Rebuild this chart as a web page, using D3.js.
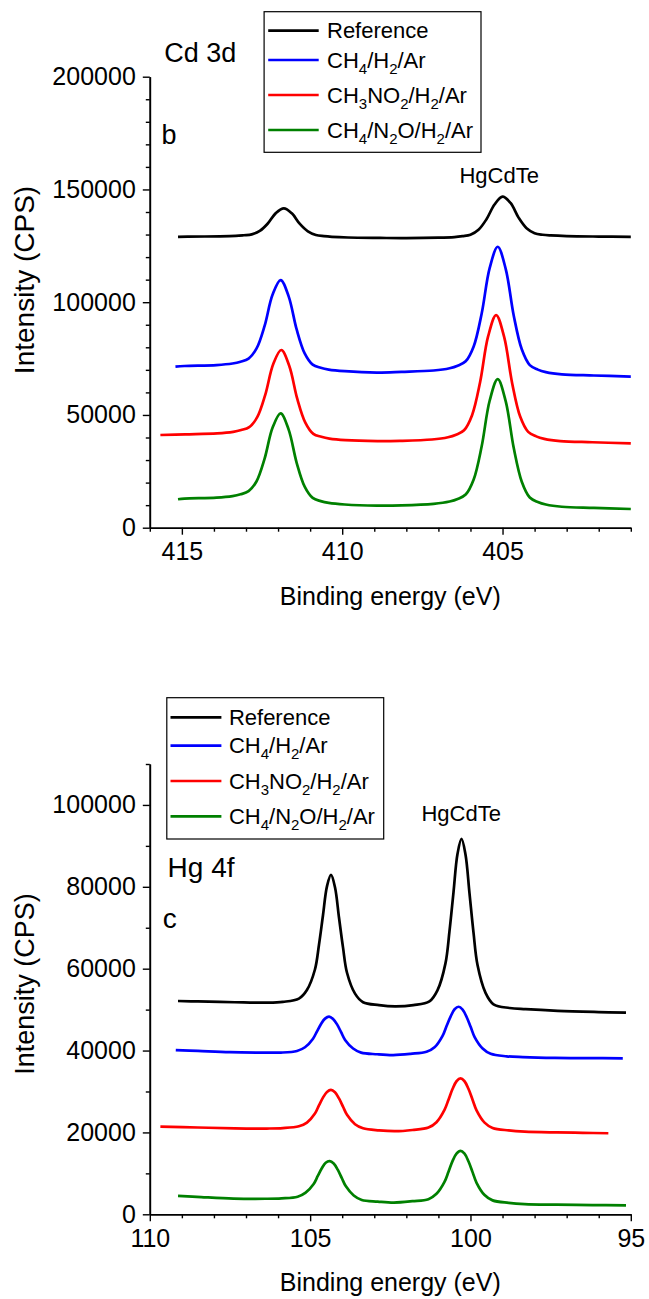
<!DOCTYPE html>
<html>
<head>
<meta charset="utf-8">
<script src="https://cdn.jsdelivr.net/npm/d3@7"></script>
<style>
  html, body { margin: 0; padding: 0; background: #fff; }
  svg { display: block; }
  text { font-family: "Liberation Sans", Arial, sans-serif; fill: #000; }
</style>
</head>
<body>
<svg id="chart" width="649" height="1299"></svg>
<script>
// ---------------- DATA ----------------
const seriesNames = ["Reference", "CH4/H2/Ar", "CH3NO2/H2/Ar", "CH4/N2O/H2/Ar"];
const seriesColors = ["#000000", "#0000ff", "#ff0000", "#008000"];

// Panel b: Cd 3d  [binding energy eV, intensity CPS]
const cdReference = [[415.12,129000],[414.82,129100],[413.82,129200],[413.32,129400],[413.07,129700],[412.82,130100],[412.57,131600],[412.32,134900],[412.07,139500],[411.82,141600],[411.57,139400],[411.32,134700],[411.07,131400],[410.82,129800],[410.57,129300],[410.32,129000],[409.82,128700],[408.82,128500],[408.0,128400],[407.0,128600],[406.5,128900],[406.25,129300],[406.0,129900],[405.75,132100],[405.5,136800],[405.25,143300],[405.0,146800],[404.75,144000],[404.5,137500],[404.25,132800],[404.0,130600],[403.75,129900],[403.5,129600],[403.0,129300],[402.0,129100],[401.0,129000]];
const cdCH4 = [[415.2,71400],[414.92,71700],[413.92,72100],[413.42,72800],[413.17,73600],[412.92,75000],[412.67,79500],[412.42,89500],[412.17,103400],[411.92,109800],[411.67,102600],[411.42,87900],[411.17,77300],[410.92,72300],[410.67,70900],[410.42,70100],[409.92,69400],[408.92,68800],[408.15,69100],[407.15,69700],[406.65,70700],[406.4,71800],[406.15,73800],[405.9,80400],[405.65,95000],[405.4,115200],[405.15,124600],[404.9,114700],[404.65,94000],[404.4,79100],[404.15,72100],[403.9,70100],[403.65,69000],[403.15,68000],[402.15,67500],[401.0,67000]];
const cdCH3NO2 = [[415.67,41100],[414.9,41400],[413.9,41800],[413.4,42500],[413.15,43300],[412.9,44600],[412.65,49000],[412.4,58900],[412.15,72600],[411.9,78800],[411.65,71700],[411.4,57100],[411.15,46600],[410.9,41600],[410.65,40300],[410.4,39500],[409.9,38800],[408.9,38400],[408.2,38500],[407.2,39100],[406.7,40100],[406.45,41200],[406.2,43200],[405.95,49900],[405.7,64500],[405.45,84800],[405.2,94300],[404.95,84600],[404.7,64100],[404.45,49300],[404.2,42500],[403.95,40500],[403.7,39400],[403.2,38400],[402.2,37900],[401.0,37400]];
const cdN2O = [[415.12,12600],[414.92,12900],[413.92,13300],[413.42,14000],[413.17,14800],[412.92,16200],[412.67,20600],[412.42,30600],[412.17,44400],[411.92,50700],[411.67,43500],[411.42,28800],[411.17,18200],[410.92,13200],[410.67,11800],[410.42,11000],[409.92,10300],[408.92,9800],[408.15,9900],[407.15,10600],[406.65,11600],[406.4,12700],[406.15,14700],[405.9,21400],[405.65,36100],[405.4,56400],[405.15,65900],[404.9,56000],[404.65,35300],[404.4,20400],[404.15,13400],[403.9,11400],[403.65,10300],[403.15,9300],[402.15,8800],[401.0,8300]];

// Panel c: Hg 4f
const hgReference = [[109.12,52100],[108.5,52000],[107.35,51800],[106.35,51700],[105.85,51900],[105.35,52700],[105.1,54800],[104.85,59800],[104.725,65800],[104.6,73000],[104.475,80100],[104.35,82900],[104.225,79900],[104.1,72500],[103.975,65200],[103.85,59000],[103.6,53900],[103.35,51800],[102.85,51100],[102.35,50800],[101.78,51100],[101.28,52000],[101.03,54700],[100.78,61300],[100.655,69100],[100.53,78600],[100.405,88000],[100.28,91700],[100.155,87900],[100.03,78400],[99.905,68800],[99.78,60900],[99.53,54100],[99.28,51300],[98.78,50400],[98.28,50100],[97.28,49700],[96.0,49400],[95.15,49250]];
const hgCH4 = [[109.19,40100],[108.5,39900],[107.5,39600],[106.41,39500],[105.91,39500],[105.41,39900],[105.16,40800],[104.91,42900],[104.785,44700],[104.66,46500],[104.535,47800],[104.41,48300],[104.285,47700],[104.16,46400],[104.035,44500],[103.91,42600],[103.66,40500],[103.41,39500],[102.91,39100],[102.41,38900],[101.87,39200],[101.37,39700],[101.12,40800],[100.87,43600],[100.745,46000],[100.62,48300],[100.495,50100],[100.37,50700],[100.245,50000],[100.12,48200],[99.995,45800],[99.87,43300],[99.62,40500],[99.37,39200],[98.87,38600],[98.37,38400],[97.37,38200],[96.3,38150],[95.25,38100]];
const hgCH3NO2 = [[109.67,21400],[108.5,21200],[107.35,21000],[106.35,20950],[105.85,21050],[105.35,21500],[105.1,22400],[104.85,24600],[104.725,26600],[104.6,28500],[104.475,29900],[104.35,30400],[104.225,29800],[104.1,28300],[103.975,26300],[103.85,24300],[103.6,22000],[103.35,21000],[102.85,20500],[102.35,20300],[101.81,20600],[101.31,21200],[101.06,22500],[100.81,25500],[100.685,28000],[100.56,30600],[100.435,32500],[100.31,33200],[100.185,32500],[100.06,30600],[99.935,28000],[99.81,25400],[99.56,22400],[99.31,21100],[98.81,20500],[98.31,20200],[97.31,20000],[96.5,19900],[95.7,19800]];
const hgN2O = [[109.12,4500],[108.4,4200],[107.39,3850],[106.39,3800],[105.89,3900],[105.39,4300],[105.14,5300],[104.89,7400],[104.765,9300],[104.64,11200],[104.515,12600],[104.39,13000],[104.265,12400],[104.14,10900],[104.015,8900],[103.89,6900],[103.64,4600],[103.39,3500],[102.89,3100],[102.39,2850],[101.81,3200],[101.31,3700],[101.06,5000],[100.81,7900],[100.685,10400],[100.56,13000],[100.435,14800],[100.31,15500],[100.185,14800],[100.06,12900],[99.935,10300],[99.81,7700],[99.56,4700],[99.31,3400],[98.81,2800],[98.31,2500],[97.31,2350],[96.2,2250],[95.15,2200]];

// Tick values
const cdXMajor = [415, 410, 405];
const cdXMinor = [416,414,413,412,411,409,408,407,406,404,403,402,401];
const cdYMajor = [0, 50000, 100000, 150000, 200000];
const cdYMinor = [10000,20000,30000,40000,60000,70000,80000,90000,110000,120000,130000,140000,160000,170000,180000,190000];
const hgXMajor = [110, 105, 100, 95];
const hgXMinor = [109,108,107,106,104,103,102,101,99,98,97,96];
const hgYMajor = [0, 20000, 40000, 60000, 80000, 100000];
const hgYMinor = [10000,30000,50000,70000,90000,110000];

// ---------------- DRAW ----------------
const svg = d3.select("#chart");
svg.append("rect").attr("width", 649).attr("height", 1299).attr("fill", "#fff");

function formula(textSel, str, subSize, subShift) {
  const parts = str.match(/\d+|[^\d]+/g);
  let prevSub = false;
  parts.forEach(p => {
    const isSub = /^\d+$/.test(p);
    const ts = textSel.append("tspan").text(p);
    if (isSub) { ts.attr("font-size", subSize).attr("dy", subShift); }
    else if (prevSub) { ts.attr("dy", -subShift); }
    prevSub = isSub;
  });
}

function panel(cfg) {
  const g = svg.append("g");
  const x = d3.scaleLinear().domain(cfg.xDomain).range([149.8, 630.8]);
  const y = d3.scaleLinear().domain(cfg.yDomain).range(cfg.yRange);

  // series
  const line = d3.line().x(d => x(d[0])).y(d => y(d[1])).curve(d3.curveCatmullRom.alpha(0.5));
  cfg.series.forEach((s, i) => {
    g.append("path").datum(s).attr("d", line)
      .attr("fill", "none").attr("stroke", seriesColors[i])
      .attr("stroke-width", 2.7).attr("stroke-linejoin", "round");
  });

  // axes
  const xAxisY = cfg.yRange[0];
  g.append("g").attr("transform", `translate(0,${xAxisY})`)
    .call(d3.axisBottom(x).tickValues(cfg.xMajor).tickSize(7).tickSizeOuter(0).tickPadding(8).tickFormat(d3.format("d")));
  g.append("g").attr("transform", `translate(0,${xAxisY})`)
    .call(d3.axisBottom(x).tickValues(cfg.xMinor).tickSize(4).tickSizeOuter(0).tickFormat(""));
  g.append("g").attr("transform", "translate(149.8,0)")
    .call(d3.axisLeft(y).tickValues(cfg.yMajor).tickSize(7).tickSizeOuter(0).tickPadding(7).tickFormat(d3.format("d")));
  g.append("g").attr("transform", "translate(149.8,0)")
    .call(d3.axisLeft(y).tickValues(cfg.yMinor).tickSize(4).tickSizeOuter(0).tickFormat(""));
  g.selectAll(".domain").attr("stroke", "#000").attr("stroke-width", 1.6);
  g.selectAll(".tick line").attr("stroke", "#000").attr("stroke-width", 1.4);
  g.selectAll(".tick text").attr("font-size", 25).attr("font-family", '"Liberation Sans", Arial, sans-serif').attr("fill", "#000");

  // axis titles
  g.append("text").attr("x", 390.3).attr("y", cfg.xTitleY).attr("text-anchor", "middle")
    .attr("font-size", 25).text("Binding energy (eV)");
  g.append("text").attr("transform", `translate(34,${cfg.yTitleY}) rotate(-90)`)
    .attr("text-anchor", "middle").attr("font-size", cfg.yTitleSize).text("Intensity (CPS)");

  // labels
  cfg.labels.forEach(l => {
    g.append("text").attr("x", l.x).attr("y", l.y).attr("font-size", l.size).text(l.text);
  });

  // legend
  const lg = cfg.legend;
  g.append("rect").attr("x", lg.x0).attr("y", lg.y0).attr("width", lg.x1 - lg.x0).attr("height", lg.y1 - lg.y0)
    .attr("fill", "#fff").attr("stroke", "#000").attr("stroke-width", 1.2);
  seriesNames.forEach((name, i) => {
    const ly = lg.rows[i];
    g.append("line").attr("x1", lg.lx0).attr("x2", lg.lx1).attr("y1", ly).attr("y2", ly)
      .attr("stroke", seriesColors[i]).attr("stroke-width", 2.7);
    const t = g.append("text").attr("x", lg.tx).attr("y", ly + 7.5).attr("font-size", 22);
    formula(t, name, 15, 6);
  });
}

panel({
  xDomain: [416, 401], yDomain: [0, 200000], yRange: [527.7, 76.7],
  series: [cdReference, cdCH4, cdCH3NO2, cdN2O],
  xMajor: cdXMajor, xMinor: cdXMinor, yMajor: cdYMajor, yMinor: cdYMinor,
  xTitleY: 605, yTitleY: 280, yTitleSize: 28,
  labels: [
    {text: "Cd 3d", x: 164.3, y: 62.3, size: 27},
    {text: "b", x: 161.5, y: 143.5, size: 27},
    {text: "HgCdTe", x: 459.4, y: 183, size: 22}
  ],
  legend: {x0: 264.1, x1: 481, y0: 11.7, y1: 152.3, lx0: 268.2, lx1: 318.7, tx: 327,
           rows: [30.7, 60, 95, 130]}
});

panel({
  xDomain: [110, 95], yDomain: [0, 110000], yRange: [1214.3, 764],
  series: [hgReference, hgCH4, hgCH3NO2, hgN2O],
  xMajor: hgXMajor, xMinor: hgXMinor, yMajor: hgYMajor, yMinor: hgYMinor,
  xTitleY: 1290.7, yTitleY: 984, yTitleSize: 27,
  labels: [
    {text: "Hg 4f", x: 167.6, y: 876.5, size: 28},
    {text: "c", x: 162.7, y: 927.5, size: 28},
    {text: "HgCdTe", x: 421.4, y: 821, size: 22}
  ],
  legend: {x0: 166.8, x1: 383.7, y0: 697.7, y1: 839, lx0: 170.5, lx1: 221.4, tx: 228.9,
           rows: [717.3, 745.7, 781, 816.3]}
});
</script>
</body>
</html>
